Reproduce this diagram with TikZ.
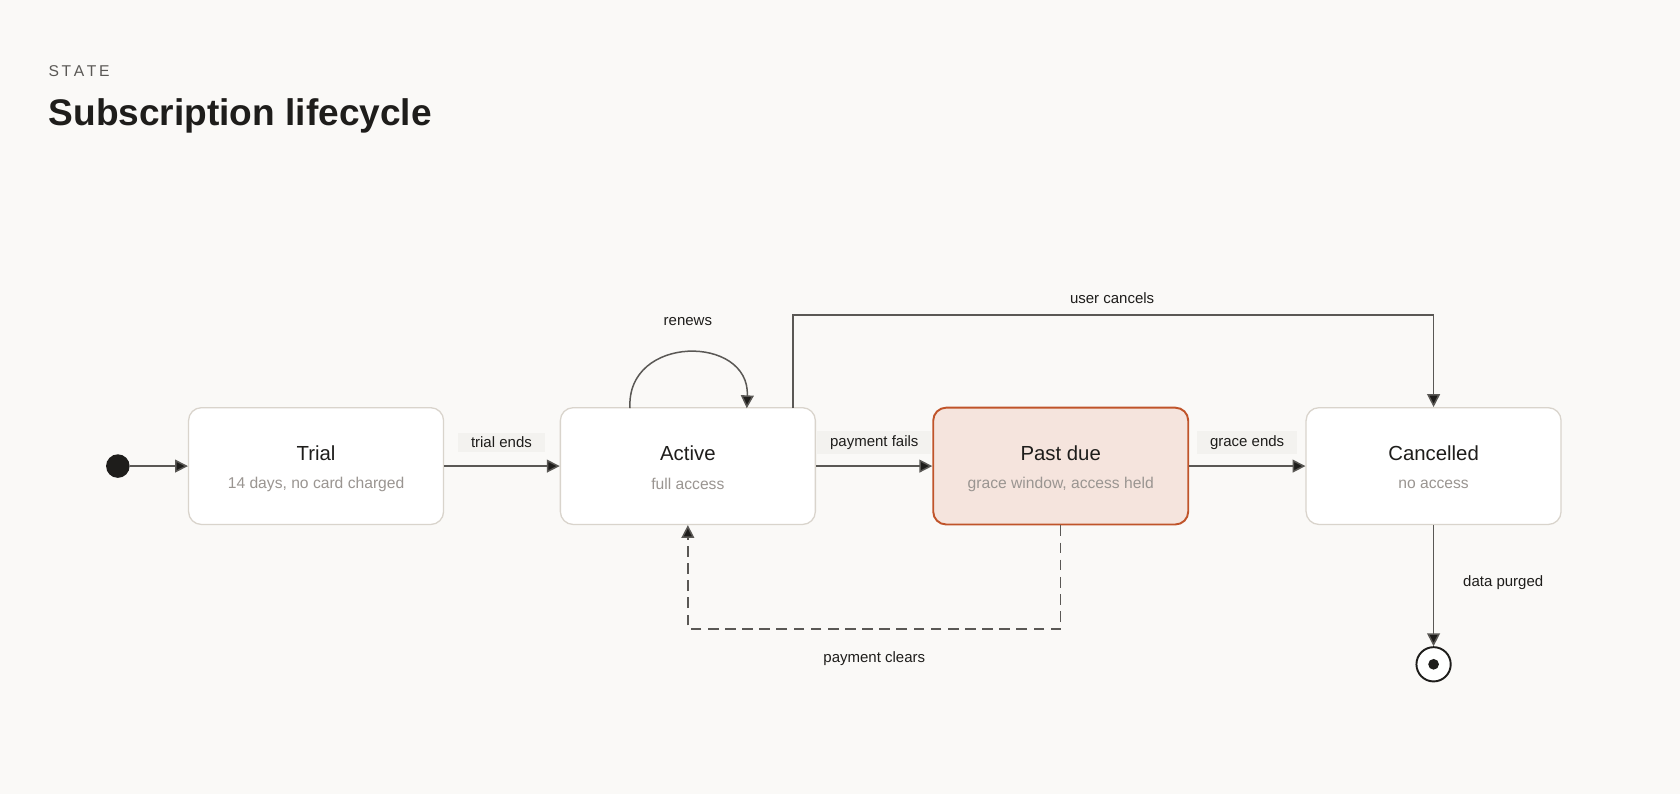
\documentclass[tikz,border=0pt]{standalone}
\usepackage{fontspec}
\setmainfont{Liberation Sans}
\usetikzlibrary{arrows.meta}
\definecolor{bg}{HTML}{FAF9F7}
\definecolor{bord}{HTML}{D9D4CC}
\definecolor{sub}{HTML}{9A9591}
\definecolor{ink}{HTML}{1E1D1B}
\definecolor{edge}{HTML}{5A5855}
\definecolor{pdfill}{HTML}{F5E4DD}
\definecolor{pdbord}{HTML}{C0542A}
\definecolor{lblbg}{HTML}{F3F2EF}
\begin{document}
\begin{tikzpicture}[x=0.5pt,y=-0.5pt,
  state/.style={draw=bord,fill=white,rounded corners=6pt,minimum width=119pt,minimum height=54.5pt,line width=0.6pt},
  ttl/.style={font=\fontsize{9.5}{11}\selectfont,text=ink},
  sb/.style={font=\fontsize{7.3}{9}\selectfont,text=sub},
  lbl/.style={font=\fontsize{7}{9}\selectfont,text=ink},
  lblb/.style={lbl,fill=lblbg,inner xsep=6pt,inner ysep=2pt},
  arr/.style={draw=edge,line width=0.7pt,-{Triangle[length=6pt,width=6pt,fill=ink]}}]
\fill[bg] (0,0) rectangle (1568,741);
\node[anchor=west,font=\fontsize{7.3}{9}\selectfont,text=edge,inner xsep=0pt] at (45,66) {S\,T\,A\,T\,E};
\node[anchor=west,font=\bfseries\fontsize{17.3}{20}\selectfont,text=ink,inner xsep=0pt] at (45,108) {Subscription lifecycle};
\node[state] (trial) at (295,435) {};
\node[state] (active) at (642,435) {};
\node[state,fill=pdfill,draw=pdbord,line width=0.9pt] (past) at (990,435) {};
\node[state] (canc) at (1338,435) {};
\foreach \n/\a/\b in {trial/Trial/{14 days, no card charged},active/Active/{full access},past/Past due/{grace window, access held},canc/Cancelled/{no access}}{
  \node[ttl] (\n t) at ([yshift=6pt]\n.center) {\a};
  \node[sb] (\n s) at ([yshift=-8.5pt]\n.center) {\b};
}
\node[circle,fill=ink,minimum size=11pt,inner sep=0pt] (start) at (110,435) {};
\node[circle,draw=ink,line width=0.9pt,minimum size=16pt,inner sep=0pt,fill=white] (end) at (1338,620) {};
\node[circle,fill=ink,minimum size=5pt,inner sep=0pt] (endin) at (1338,620) {};
\draw[arr] (start) -- (trial);
\draw[arr] (trial) -- (active);
\draw[arr] (active) -- (past);
\draw[arr] (past) -- (canc);
\node[lblb] (l1) at (468,413) {trial ends};
\node[lblb] (l2) at (816,413) {payment fails};
\node[lblb] (l3) at (1164,413) {grace ends};
\coordinate (la) at (588,381);
\coordinate (lb) at (697,381);
\draw[arr] (la) .. controls (584,312) and (700,312) .. (lb);
\node[lbl] (lr) at (642,300) {renews};
\coordinate (u1) at (740,381);
\draw[arr] (u1) |- (1338,294) -- (canc.north);
\node[lbl] (lu) at (1038,278) {user cancels};
\draw[arr,dashed,dash pattern=on 5pt off 3pt] (past.south) |- (642,587) -- (active.south);
\node[lbl] (lp) at (816,615) {payment clears};
\draw[arr] (canc.south) -- (end);
\node[lbl] (ld) at (1403,544) {data purged};
\end{tikzpicture}
\end{document}
